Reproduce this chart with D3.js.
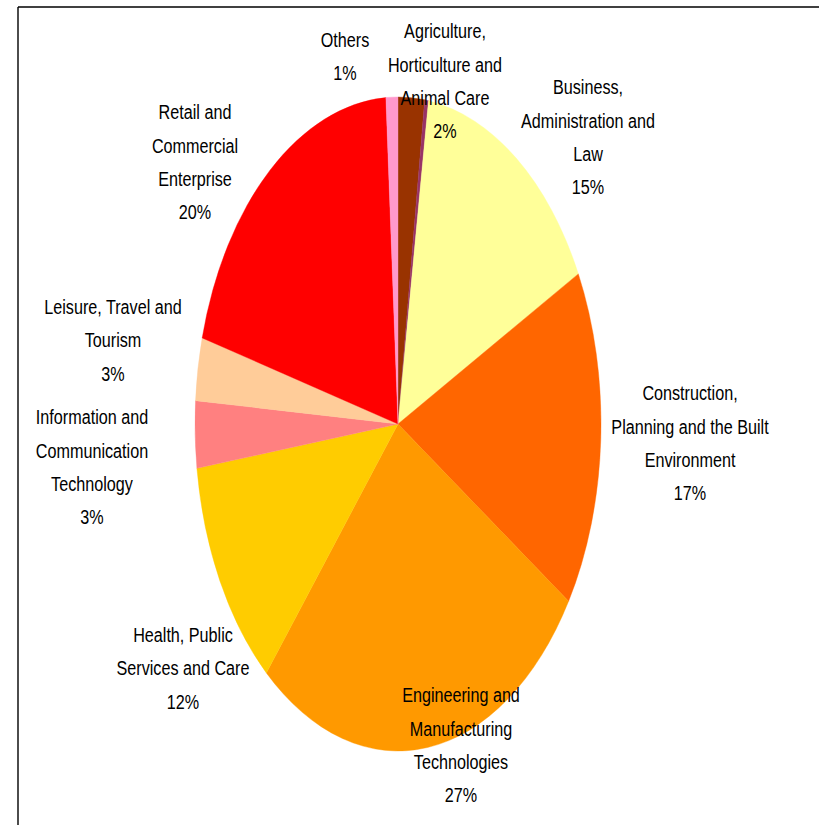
<!DOCTYPE html>
<html>
<head>
<meta charset="utf-8">
<script src="https://cdn.jsdelivr.net/npm/d3@7"></script>
<style>
  html, body { margin: 0; padding: 0; background: #fff; }
  svg { display: block; }
  text { font-family: "Liberation Sans", Arial, sans-serif; font-size: 21px; fill: #000; }
</style>
</head>
<body>
<script>
// ---- data ----
const categories = [
  "Agriculture, Horticulture and Animal Care",
  "Unlabelled",
  "Business, Administration and Law",
  "Construction, Planning and the Built Environment",
  "Engineering and Manufacturing Technologies",
  "Health, Public Services and Care",
  "Information and Communication Technology",
  "Leisure, Travel and Tourism",
  "Retail and Commercial Enterprise",
  "Others"
];
const values = [2.1, 0.3, 15.0, 16.7, 27.1, 11.6, 3.3, 3.1, 19.8, 0.95];
const percentLabels = ["2%", "", "15%", "17%", "27%", "12%", "3%", "3%", "20%", "1%"];
const labelLines = [
  ["Agriculture,", "Horticulture and", "Animal Care"],
  [],
  ["Business,", "Administration and", "Law"],
  ["Construction,", "Planning and the Built", "Environment"],
  ["Engineering and", "Manufacturing", "Technologies"],
  ["Health, Public", "Services and Care"],
  ["Information and", "Communication", "Technology"],
  ["Leisure, Travel and", "Tourism"],
  ["Retail and", "Commercial", "Enterprise"],
  ["Others"]
];
const colors = ["#993300", "#993366", "#FFFF99", "#FF6600", "#FF9900", "#FFCC00", "#FF8080", "#FFCC99", "#FF0000", "#FF99CC"];

// ---- layout ----
const W = 819, H = 825;
const cx = 398, cy = 424, rx = 203, ry = 327;
const lineH = 33.3;
const narrow = 0.77;
// label block centres relative to pie centre (layout only)
const labelOffsets = [
  [47, -343], [0, 0], [190, -287], [292, 19], [63, 321],
  [-215, 244], [-306, 43], [-285, -84], [-203, -262], [-53, -368]
];

const svg = d3.select("body").append("svg").attr("width", W).attr("height", H);

// frame lines
svg.append("line").attr("x1", 18).attr("y1", 7).attr("x2", W).attr("y2", 7)
  .attr("stroke", "#000").attr("stroke-width", 1.4);
svg.append("line").attr("x1", 18).attr("y1", 7).attr("x2", 18).attr("y2", H)
  .attr("stroke", "#000").attr("stroke-width", 1.4);

const data = categories.map((c, i) => ({ name: c, value: values[i], color: colors[i], pct: percentLabels[i], lines: labelLines[i], off: labelOffsets[i] }));

const pie = d3.pie().value(d => d.value).sort(null);
const arc = d3.arc().innerRadius(0).outerRadius(rx);

const g = svg.append("g").attr("transform", `translate(${cx},${cy}) scale(1,${ry / rx})`);
g.selectAll("path").data(pie(data)).join("path")
  .attr("d", arc)
  .attr("fill", d => d.data.color)
  .attr("stroke", d => d.data.color)
  .attr("stroke-width", 0.3);

// labels
const lg = svg.append("g");
data.forEach(d => {
  const lines = d.pct ? d.lines.concat([d.pct]) : [];
  if (!lines.length) return;
  const x = cx + d.off[0], y = cy + d.off[1];
  const n = lines.length;
  const t = lg.append("text").attr("text-anchor", "middle")
    .attr("transform", `translate(${x},${y}) scale(${narrow},1)`);
  lines.forEach((ln, i) => {
    t.append("tspan").attr("x", 0)
      .attr("y", (i - (n - 1) / 2) * lineH)
      .attr("dy", "0.35em")
      .text(ln);
  });
});
</script>
</body>
</html>
